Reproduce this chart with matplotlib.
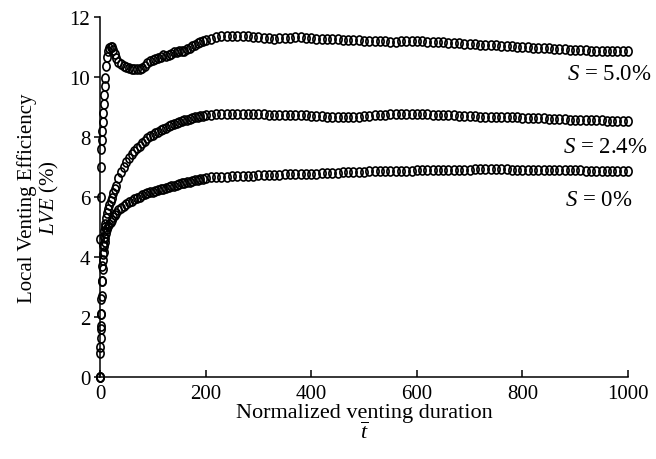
import matplotlib
matplotlib.use("Agg")
import matplotlib.pyplot as plt
from matplotlib.path import Path
from matplotlib.transforms import Affine2D

plt.rcParams['font.family'] = ['Liberation Serif', 'DejaVu Serif']
plt.rcParams['mathtext.fontset'] = 'custom'
plt.rcParams['mathtext.rm'] = 'Liberation Serif'
plt.rcParams['mathtext.it'] = 'Liberation Serif:italic'

# normalized venting duration (dense at the start)
t_early = [0, 0.5, 1, 1.5, 2, 3, 4, 5, 6, 7, 8, 9, 10, 12, 14, 16, 18, 20, 22, 25, 28]
t = t_early + list(range(30, 200, 5)) + list(range(200, 1001, 10))

# LVE (%) for S = 5.0%
lve_50 = [0, 4.6, 6.0, 7.0, 7.6, 7.9, 8.2, 8.5, 8.8, 9.1, 9.4, 9.7, 9.95, 10.35, 10.65, 10.85, 10.95, 11.0, 11.0, 10.9, 10.75,
          # 30 - 195
          10.62, 10.5, 10.42, 10.37, 10.33, 10.3, 10.28, 10.26, 10.25, 10.26,
          10.3, 10.36, 10.45, 10.52, 10.56, 10.6, 10.63, 10.68, 10.72, 10.7,
          10.72, 10.77, 10.82, 10.84, 10.85, 10.86, 10.88, 10.92, 10.97, 11.02,
          11.07, 11.12, 11.16, 11.2,
          # 200 - 1000
          11.22, 11.28, 11.32,
          11.35, 11.37, 11.37, 11.38, 11.37, 11.35, 11.33, 11.32, 11.3, 11.3,
          11.28, 11.3, 11.3, 11.3, 11.32, 11.33, 11.31, 11.29, 11.28, 11.27,
          11.27, 11.26, 11.25, 11.24, 11.23, 11.22, 11.22, 11.21, 11.2, 11.2,
          11.19, 11.19, 11.18, 11.18, 11.2, 11.21, 11.21, 11.2, 11.19, 11.18,
          11.17, 11.16, 11.15, 11.14, 11.13, 11.12, 11.11, 11.1, 11.09, 11.08,
          11.07, 11.06, 11.05, 11.04, 11.03, 11.02, 11.01, 11.0, 10.99, 10.98,
          10.97, 10.96, 10.95, 10.94, 10.93, 10.92, 10.91, 10.9, 10.9, 10.89,
          10.88, 10.88, 10.87, 10.87, 10.86, 10.86, 10.85, 10.85]

# LVE (%) for S = 2.4%
lve_24 = [0, 1.0, 1.6, 2.1, 2.6, 3.2, 3.7, 4.1, 4.4, 4.65, 4.85, 5.0, 5.1, 5.3, 5.45, 5.6, 5.72, 5.85, 5.97, 6.12, 6.28,
          6.38, 6.62, 6.82, 7.0, 7.15, 7.3, 7.42, 7.52, 7.62, 7.71,
          7.8, 7.88, 7.95, 8.02, 8.08, 8.13, 8.18, 8.23, 8.27, 8.31,
          8.35, 8.39, 8.43, 8.47, 8.5, 8.53, 8.55, 8.58, 8.6, 8.63,
          8.65, 8.67, 8.69, 8.71,
          8.72, 8.74, 8.76,
          8.77, 8.77, 8.78, 8.77, 8.77, 8.76, 8.76, 8.75, 8.75, 8.74,
          8.74, 8.73, 8.73, 8.72, 8.72, 8.73, 8.72, 8.71, 8.7, 8.69,
          8.68, 8.67, 8.66, 8.66, 8.66, 8.67, 8.68, 8.69, 8.7, 8.72,
          8.73, 8.74, 8.75, 8.76, 8.77, 8.78, 8.78, 8.77, 8.76, 8.75,
          8.74, 8.74, 8.73, 8.72, 8.72, 8.71, 8.7, 8.7, 8.69, 8.68,
          8.68, 8.67, 8.67, 8.66, 8.66, 8.65, 8.65, 8.64, 8.64, 8.63,
          8.62, 8.62, 8.61, 8.6, 8.6, 8.59, 8.58, 8.58, 8.57, 8.56,
          8.56, 8.55, 8.55, 8.54, 8.54, 8.53, 8.53, 8.52]

# LVE (%) for S = 0%
lve_00 = [0, 0.8, 1.3, 1.7, 2.1, 2.7, 3.2, 3.6, 3.9, 4.15, 4.35, 4.5, 4.62, 4.8, 4.93, 5.02, 5.1, 5.17, 5.23, 5.32, 5.4,
          5.45, 5.55, 5.63, 5.7, 5.77, 5.83, 5.88, 5.93, 5.97, 6.01,
          6.05, 6.09, 6.12, 6.15, 6.18, 6.21, 6.23, 6.26, 6.28, 6.31,
          6.33, 6.36, 6.38, 6.41, 6.43, 6.45, 6.47, 6.49, 6.51, 6.53,
          6.55, 6.57, 6.59, 6.61,
          6.62, 6.65, 6.67,
          6.68, 6.68, 6.69, 6.69, 6.7, 6.7, 6.71, 6.72, 6.72, 6.73,
          6.73, 6.74, 6.75, 6.75, 6.76, 6.77, 6.77, 6.78, 6.78, 6.79,
          6.8, 6.8, 6.81, 6.82, 6.82, 6.83, 6.83, 6.84, 6.85, 6.85,
          6.86, 6.86, 6.87, 6.87, 6.88, 6.88, 6.88, 6.89, 6.89, 6.89,
          6.9, 6.9, 6.9, 6.9, 6.91, 6.91, 6.91, 6.91, 6.92, 6.92,
          6.92, 6.92, 6.92, 6.92, 6.92, 6.91, 6.91, 6.91, 6.91, 6.9,
          6.9, 6.9, 6.9, 6.9, 6.89, 6.89, 6.89, 6.89, 6.89, 6.88,
          6.88, 6.88, 6.88, 6.88, 6.88, 6.88, 6.88, 6.88]

# slightly tall open circles, like the original export
ellipse = Affine2D().scale(0.8, 1.0).transform_path(Path.unit_circle())

fig = plt.figure(figsize=(6.56, 4.6), dpi=100)
ax = fig.add_axes([0.1524, 0.1783, 0.8049, 0.7826])

for vals in [lve_50, lve_24, lve_00]:
    ax.plot(t, vals, linestyle='none', marker=ellipse, markersize=6.5,
            markerfacecolor='none', markeredgecolor='black', markeredgewidth=1.2,
            clip_on=False)

ax.set_xlim(0, 1000)
ax.set_ylim(0, 12)
ax.set_xticks(range(0, 1001, 200))
ax.set_yticks(range(0, 13, 2))
for s in ['top', 'right']:
    ax.spines[s].set_visible(False)
for s in ['left', 'bottom']:
    ax.spines[s].set_linewidth(1.1)
ax.tick_params(axis='x', direction='in', length=5, width=1.1, labelsize=15, pad=5)
ax.tick_params(axis='y', direction='out', length=4, width=1.1, labelsize=15, pad=3)

ax.set_xlabel('Normalized venting duration\n$\\overline{t}$', fontsize=16, labelpad=0, linespacing=1.0)
ax.set_ylabel('Local Venting Efficiency\n$LVE$ (%)', fontsize=15, labelpad=6, linespacing=1.05)

ax.text(1045, 10.1, '$S$ = 5.0%', fontsize=16.5, ha='right', va='center')
ax.text(1038, 7.67, '$S$ = 2.4%', fontsize=16.5, ha='right', va='center')
ax.text(1008, 5.93, '$S$ = 0%', fontsize=16.5, ha='right', va='center')

fig.savefig('out.png', dpi=100)
